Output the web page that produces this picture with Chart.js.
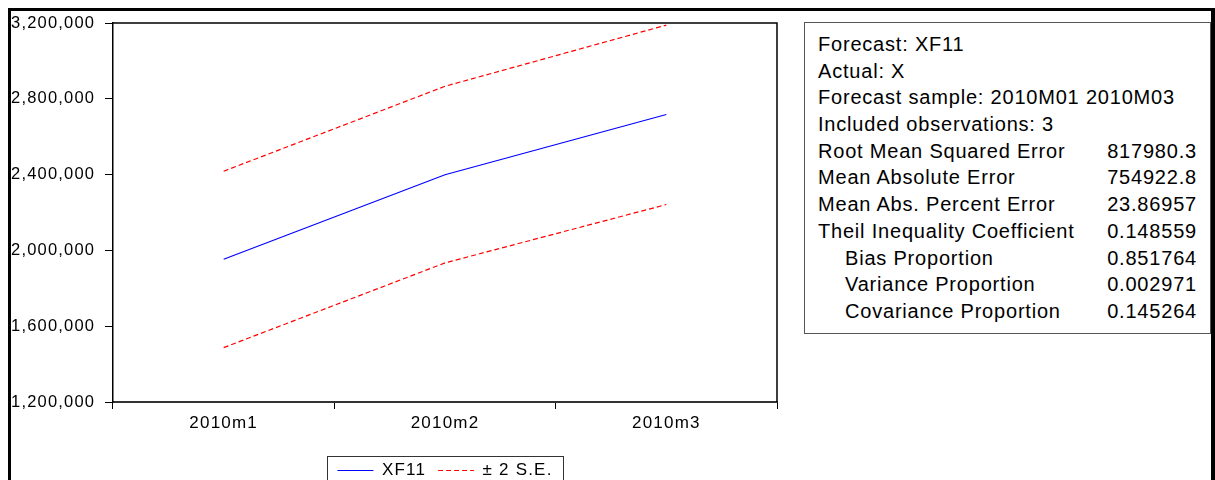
<!DOCTYPE html>
<html>
<head>
<meta charset="utf-8">
<script src="https://cdn.jsdelivr.net/npm/chart.js"></script>
<style>
  html, body { margin: 0; padding: 0; background: #fff; overflow: hidden; width: 1215px; height: 480px; }
  #wrap { position: absolute; left: 0; top: 0; width: 800px; height: 489px; }
  #frame { position: absolute; left: 8px; top: 8px; width: 1210px; height: 600px; box-sizing: border-box;
           border-top: 3px solid #000; border-left: 3px solid #000; border-right: 7px solid #000; z-index: 5; }
  #stats { position: absolute; left: 804px; top: 22px; width: 407px; height: 312px; box-sizing: border-box;
           border: 1px solid #555; padding: 8px 13px 0 13px;
           font-family: "Liberation Sans", Arial, sans-serif; font-size: 20px; letter-spacing: 0.8px; color: #000; }
  #stats .row { display: flex; justify-content: space-between; height: 26.7px; line-height: 26.7px; white-space: nowrap; }
  #stats .ind { padding-left: 27px; }
</style>
</head>
<body>
<div id="frame"></div>
<div id="wrap"><canvas id="myChart" width="800" height="489"></canvas></div>
<div id="stats"></div>
<script>
const categories = ['2010m1', '2010m2', '2010m3'];
const forecast = [1953000, 2399000, 2717000];
const upperBand = [2418000, 2866000, 3189000];
const lowerBand = [1487000, 1934000, 2242000];
const yTicks = [1200000, 1600000, 2000000, 2400000, 2800000, 3200000];

const headerLines = ['Forecast: XF11', 'Actual: X', 'Forecast sample: 2010M01 2010M03', 'Included observations: 3'];
const statNames = ['Root Mean Squared Error', 'Mean Absolute Error', 'Mean Abs. Percent Error',
    'Theil Inequality Coefficient', 'Bias Proportion', 'Variance Proportion', 'Covariance Proportion'];
const statValues = ['817980.3', '754922.8', '23.86957', '0.148559', '0.851764', '0.002971', '0.145264'];
const statIndent = [0, 0, 0, 0, 1, 1, 1];

// stats box on the right
const box = document.getElementById('stats');
headerLines.forEach(t => {
    const r = document.createElement('div');
    r.className = 'row';
    r.textContent = t;
    box.appendChild(r);
});
statNames.forEach((n, i) => {
    const r = document.createElement('div');
    r.className = 'row';
    const a = document.createElement('span');
    a.textContent = n;
    if (statIndent[i]) a.className = 'ind';
    const b = document.createElement('span');
    b.textContent = statValues[i];
    r.appendChild(a);
    r.appendChild(b);
    box.appendChild(r);
});

Chart.defaults.font.family = '"Liberation Sans", Arial, sans-serif';
Chart.defaults.color = '#000';

const frameAndSpacing = {
    id: 'frameAndSpacing',
    beforeLayout(chart) { chart.ctx.letterSpacing = '1.2px'; },
    beforeDraw(chart) { chart.ctx.letterSpacing = '1.2px'; },
    afterDraw(chart) {
        const { ctx, chartArea: a, legend } = chart;
        ctx.save();
        ctx.strokeStyle = '#000';
        ctx.lineWidth = 1.5;
        ctx.beginPath();
        ctx.moveTo(a.left, a.top);
        ctx.lineTo(a.right, a.top);
        ctx.lineTo(a.right, a.bottom);
        ctx.stroke();
        const hb = legend.legendHitBoxes;
        if (hb && hb.length) {
            const last = hb[hb.length - 1];
            const l = Math.round(hb[0].left - 10), r = Math.round(last.left + last.width + 10);
            const t = Math.round(hb[0].top - 6);
            ctx.lineWidth = 1;
            ctx.strokeStyle = '#333';
            ctx.strokeRect(l + 0.5, t + 0.5, r - l, 80);
        }
        ctx.restore();
    }
};

const data = {
    labels: categories,
    datasets: [
        {
            label: 'XF11',
            data: forecast,
            borderColor: '#0000ff',
            borderWidth: 1.2,
            pointRadius: 0,
            tension: 0,
        },
        {
            label: '\u00b1 2 S.E.',
            data: upperBand,
            borderColor: '#ff0000',
            borderWidth: 1.2,
            borderDash: [5, 3],
            pointRadius: 0,
            tension: 0,
        },
        {
            label: '\u00b1 2 S.E.',
            data: lowerBand,
            borderColor: '#ff0000',
            borderWidth: 1.2,
            borderDash: [5, 3],
            pointRadius: 0,
            tension: 0,
        }
    ]
};

const config = {
    type: 'line',
    data: data,
    options: {
        responsive: false,
        animation: false,
        layout: { padding: { top: 23, left: 11, right: 23, bottom: 0 } },
        plugins: {
            tooltip: { enabled: false },
            legend: {
                position: 'bottom',
                fullSize: false,
                labels: {
                    usePointStyle: true,
                    pointStyle: 'line',
                    pointStyleWidth: 36,
                    padding: 12,
                    font: { size: 17 },
                    color: '#000',
                    filter: item => item.datasetIndex < 2,
                    generateLabels: chart => {
                        const items = Chart.defaults.plugins.legend.labels.generateLabels(chart);
                        items.forEach(it => {
                            const ds = chart.data.datasets[it.datasetIndex];
                            it.lineDash = ds.borderDash || [];
                            it.lineWidth = ds.borderWidth;
                            it.strokeStyle = ds.borderColor;
                        });
                        return items;
                    }
                }
            }
        },
        scales: {
            x: {
                offset: true,
                grid: { offset: true, drawOnChartArea: false, tickLength: 7, color: '#000' },
                border: { color: '#333', width: 2 },
                ticks: { font: { size: 17 }, padding: 4, maxRotation: 0, autoSkip: false },
                afterFit: s => { s.height = 48; }
            },
            y: {
                min: 1200000,
                max: 3200000,
                afterBuildTicks: s => { s.ticks = yTicks.map(v => ({ value: v })); },
                grid: { drawOnChartArea: false, tickLength: 8, color: '#000' },
                border: { color: '#000', width: 1.5 },
                ticks: {
                    font: { size: 16.5 },
                    crossAlign: 'far',
                    callback: v => v.toLocaleString('en-US'),
                },
                afterFit: s => { s.width = 102; }
            }
        }
    },
    plugins: [frameAndSpacing]
};

const ctx = document.getElementById('myChart').getContext('2d');
new Chart(ctx, config);
</script>
</body>
</html>
